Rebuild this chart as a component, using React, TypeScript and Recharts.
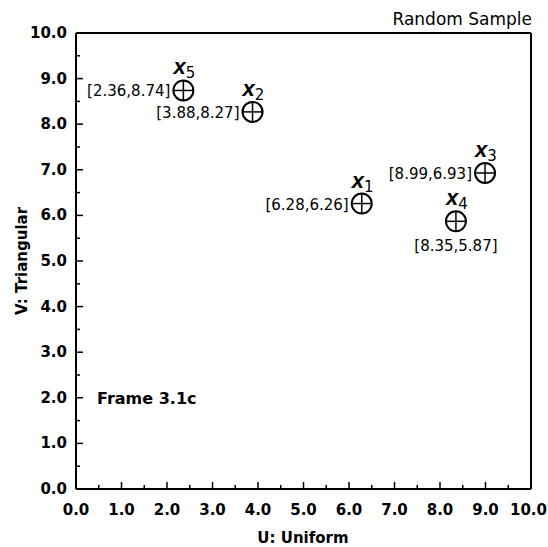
import React from 'react';
import { ScatterChart, Scatter, XAxis, YAxis } from 'recharts';

// sample points: index, U value, V value, where the coordinate tag goes
const sampleIds = ['1', '2', '3', '4', '5'];
const uValues = [6.28, 3.88, 8.99, 8.35, 2.36];
const vValues = [6.26, 8.27, 6.93, 5.87, 8.74];
const tagSide = ['left', 'left', 'left', 'below', 'left'];

// major ticks every 1.0, minor every 0.5
const majorTicks = [0, 1, 2, 3, 4, 5, 6, 7, 8, 9, 10];
const allTicks = [0, 0.5, 1, 1.5, 2, 2.5, 3, 3.5, 4, 4.5, 5, 5.5, 6, 6.5, 7, 7.5, 8, 8.5, 9, 9.5, 10];

const points = sampleIds.map((id, i) => ({
  id,
  u: uValues[i],
  v: vValues[i],
  side: tagSide[i],
}));

const W = 548;
const H = 547;
const FONT = '"DejaVu Sans", Verdana, sans-serif';
const NAME_FONT = '"Liberation Sans", Arial, Helvetica, sans-serif';
const MAJOR = 7;
const MINOR = 4;

const isMajor = (v: number) => majorTicks.includes(v);

const BottomTick = (props: any) => {
  const { x, y, payload } = props;
  const major = isMajor(payload.value);
  // last label would run past the right edge, so pin its end inside
  const last = payload.value === 10;
  return (
    <g>
      <line x1={x} x2={x} y1={y} y2={y - (major ? MAJOR : MINOR)} stroke="#000" strokeWidth={1.5} />
      {major && (
        <text
          x={last ? W - 1 : x}
          y={y + 26}
          textAnchor={last ? 'end' : 'middle'}
          fontFamily={FONT}
          fontSize={15}
          fontWeight="bold"
          fill="#000"
        >
          {payload.value.toFixed(1)}
        </text>
      )}
    </g>
  );
};

const TopTick = (props: any) => {
  const { x, y, payload } = props;
  const major = isMajor(payload.value);
  return <line x1={x} x2={x} y1={y} y2={y + (major ? MAJOR : MINOR)} stroke="#000" strokeWidth={1.5} />;
};

const LeftTick = (props: any) => {
  const { x, y, payload } = props;
  const major = isMajor(payload.value);
  return (
    <g>
      <line x1={x} x2={x + (major ? MAJOR : MINOR)} y1={y} y2={y} stroke="#000" strokeWidth={1.5} />
      {major && (
        <text x={x - 9} y={y + 5} textAnchor="end" fontFamily={FONT} fontSize={15} fontWeight="bold" fill="#000">
          {payload.value.toFixed(1)}
        </text>
      )}
    </g>
  );
};

const RightTick = (props: any) => {
  const { x, y, payload } = props;
  const major = isMajor(payload.value);
  return <line x1={x} x2={x - (major ? MAJOR : MINOR)} y1={y} y2={y} stroke="#000" strokeWidth={1.5} />;
};

// circled plus with the point name above and its coordinates beside/below
const SampleMark = (props: any) => {
  const { cx, cy, payload } = props;
  const r = 10;
  const tag = `[${payload.u.toFixed(2)},${payload.v.toFixed(2)}]`;
  return (
    <g>
      <circle cx={cx} cy={cy} r={r} fill="none" stroke="#000" strokeWidth={2} />
      <line x1={cx - r} x2={cx + r} y1={cy} y2={cy} stroke="#000" strokeWidth={1.5} />
      <line x1={cx} x2={cx} y1={cy - r} y2={cy + r} stroke="#000" strokeWidth={1.5} />
      <text x={cx - 10} y={cy - 16} fill="#000">
        <tspan fontFamily={NAME_FONT} fontSize={22} fontWeight="bold" fontStyle="italic">x</tspan>
        <tspan fontFamily={FONT} fontSize={15} dy={4}>{payload.id}</tspan>
      </text>
      {payload.side === 'left' ? (
        <text x={cx - 13} y={cy + 6} textAnchor="end" fontFamily={FONT} fontSize={15} fill="#000">
          {tag}
        </text>
      ) : (
        <text x={cx} y={cy + 30} textAnchor="middle" fontFamily={FONT} fontSize={15} fill="#000">
          {tag}
        </text>
      )}
    </g>
  );
};

export default function App() {
  return (
    <div style={{ position: 'absolute', left: 0, top: 0, width: W, height: H, background: '#fff' }}>
      <ScatterChart width={W} height={H} margin={{ top: 32, right: 16, bottom: 28, left: 36 }}>
        <XAxis
          xAxisId="bottom"
          dataKey="u"
          type="number"
          domain={[0, 10]}
          ticks={allTicks}
          interval={0}
          height={30}
          tickSize={0}
          tickMargin={0}
          axisLine={{ stroke: '#000', strokeWidth: 2 }}
          tick={<BottomTick />}
        />
        <XAxis
          xAxisId="top"
          orientation="top"
          dataKey="u"
          type="number"
          domain={[0, 10]}
          ticks={allTicks}
          interval={0}
          height={1}
          tickSize={0}
          tickMargin={0}
          axisLine={{ stroke: '#000', strokeWidth: 2 }}
          tick={<TopTick />}
        />
        <YAxis
          yAxisId="left"
          dataKey="v"
          type="number"
          domain={[0, 10]}
          ticks={allTicks}
          interval={0}
          width={40}
          tickSize={0}
          tickMargin={0}
          axisLine={{ stroke: '#000', strokeWidth: 2 }}
          tick={<LeftTick />}
        />
        <YAxis
          yAxisId="right"
          orientation="right"
          dataKey="v"
          type="number"
          domain={[0, 10]}
          ticks={allTicks}
          interval={0}
          width={1}
          tickSize={0}
          tickMargin={0}
          axisLine={{ stroke: '#000', strokeWidth: 2 }}
          tick={<RightTick />}
        />
        <Scatter
          data={points}
          xAxisId="bottom"
          yAxisId="left"
          shape={<SampleMark />}
          isAnimationActive={false}
        />
      </ScatterChart>
      <svg width={W} height={H} style={{ position: 'absolute', left: 0, top: 0, pointerEvents: 'none' }}>
        <text x={532} y={25} textAnchor="end" fontFamily={FONT} fontSize={17} fill="#000">
          Random Sample
        </text>
        <text x={303} y={543} textAnchor="middle" fontFamily={FONT} fontSize={15} fontWeight="bold" fill="#000">
          U: Uniform
        </text>
        <text
          transform="translate(27,261) rotate(-90)"
          textAnchor="middle"
          fontFamily={FONT}
          fontSize={15}
          fontWeight="bold"
          fill="#000"
        >
          V: Triangular
        </text>
        <text x={97} y={404} fontFamily={FONT} fontSize={16} fontWeight="bold" fill="#000">
          Frame 3.1c
        </text>
      </svg>
    </div>
  );
}
